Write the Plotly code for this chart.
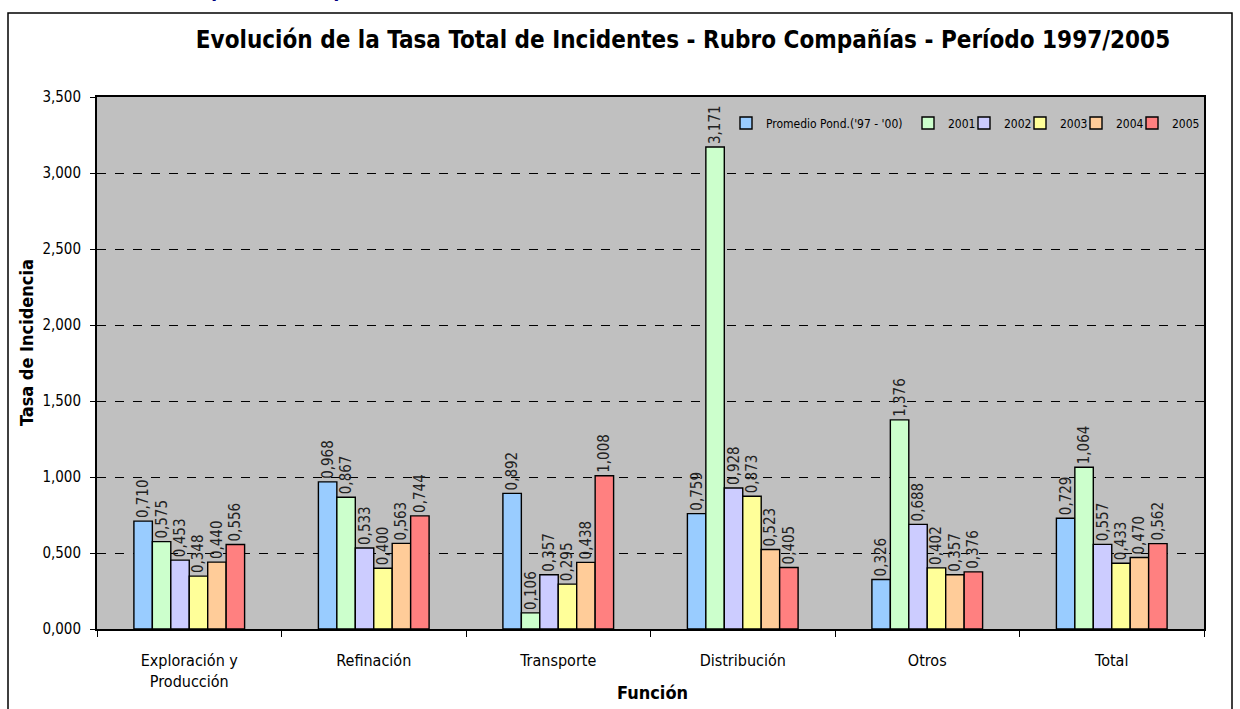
import plotly.graph_objects as go

categories = ["Exploración y<br>Producción", "Refinación", "Transporte", "Distribución", "Otros", "Total"]
series_names = ["Promedio Pond.('97 - '00)", "2001", "2002", "2003", "2004", "2005"]
prom = [0.710, 0.968, 0.892, 0.759, 0.326, 0.729]
y2001 = [0.575, 0.867, 0.106, 3.171, 1.376, 1.064]
y2002 = [0.453, 0.533, 0.357, 0.928, 0.688, 0.557]
y2003 = [0.348, 0.400, 0.295, 0.873, 0.402, 0.433]
y2004 = [0.440, 0.563, 0.438, 0.523, 0.357, 0.470]
y2005 = [0.556, 0.744, 1.008, 0.405, 0.376, 0.562]
colors = ["#99CCFF", "#CCFFCC", "#CCCCFF", "#FFFF99", "#FFCC99", "#FF8080"]

NARROW = "Liberation Sans Narrow, DejaVu Sans Condensed, Arial Narrow, Liberation Sans"

L, R, T, B = 97, 36, 97, 80
W, H = 1240, 709
pw = W - L - R
ph = H - T - B

def px(x):
    return (x - L) / pw

def py(y):
    return (H - B - y) / ph

# x pixel of each legend symbol's centre
legend_symbol_x = [747, 929, 985, 1041, 1097, 1153]
legend_names = ["legend", "legend2", "legend3", "legend4", "legend5", "legend6"]

fig = go.Figure()
for name, vals, col, lg in zip(series_names, [prom, y2001, y2002, y2003, y2004, y2005], colors, legend_names):
    fig.add_trace(go.Bar(
        x=categories, y=vals, name=name, legend=lg,
        marker=dict(color=col, line=dict(color="black", width=1.4)),
        text=[f"{v:.3f}".replace(".", ",") for v in vals],
        textposition="outside", textangle=-90,
        textfont=dict(family=NARROW, size=15, color="#222"),
        cliponaxis=False,
    ))

legend_layout = {}
for lg, sx in zip(legend_names, legend_symbol_x):
    legend_layout[lg] = dict(
        orientation="h", x=px(sx - 21), xanchor="left", y=py(123), yanchor="middle",
        bgcolor="rgba(0,0,0,0)", borderwidth=0,
        font=dict(family=NARROW, size=12, color="black"),
        itemwidth=30, itemclick=False, itemdoubleclick=False,
    )

fig.update_layout(
    width=W, height=H,
    margin=dict(l=L, r=R, t=T, b=B, autoexpand=False),
    paper_bgcolor="white", plot_bgcolor="#C0C0C0",
    barmode="group", bargap=0.4, bargroupgap=0,
    separators=",.",
    uniformtext=dict(minsize=15, mode="show"),
    font=dict(family=NARROW, size=14, color="black"),
    title=dict(text="<b>Evolución de la Tasa Total de Incidentes - Rubro Compañías - Período 1997/2005</b>",
               x=px(683), xref="paper", xanchor="center", y=1 - 40 / H, yanchor="middle",
               font=dict(family=NARROW, size=24, color="black")),
    showlegend=True,
    **legend_layout,
)
fig.update_xaxes(
    automargin=False,
    showline=True, linecolor="black", linewidth=2, mirror=True,
    ticks="outside", tickson="boundaries", ticklen=6, tickcolor="black",
    ticklabelstandoff=16,
    tickfont=dict(family=NARROW, size=16),
)
fig.update_yaxes(
    automargin=False,
    range=[0, 3.5], dtick=0.5, tickformat=".3f",
    showline=True, linecolor="black", linewidth=2, mirror=True,
    ticks="outside", ticklen=5, tickcolor="black",
    ticklabelstandoff=6,
    showgrid=True, gridcolor="black", griddash="dash", gridwidth=1,
    zeroline=False,
    tickfont=dict(family=NARROW, size=15),
)

# axis titles placed where the reference shows them
fig.add_annotation(xref="paper", yref="paper", x=px(26), y=py(342), xanchor="center", yanchor="middle",
                   text="<b>Tasa de Incidencia</b>", textangle=-90, showarrow=False,
                   font=dict(family=NARROW, size=18, color="black"))
fig.add_annotation(xref="paper", yref="paper", x=px(652), y=py(692), xanchor="center", yanchor="middle",
                   text="<b>Función</b>", showarrow=False,
                   font=dict(family=NARROW, size=18, color="black"))

# outer chart border
fig.add_shape(type="rect", xref="paper", yref="paper",
              x0=px(8), x1=px(1232), y0=py(715), y1=py(13),
              line=dict(color="black", width=1.5), fillcolor="rgba(0,0,0,0)", layer="below")

# clipped heading above the chart
fig.add_annotation(xref="paper", yref="paper", x=px(140), y=py(3), xanchor="left", yanchor="bottom",
                   text="<b><i>Bases para la comparación</i></b>", showarrow=False,
                   font=dict(family="Liberation Sans", size=22, color="#000080"))

fig.write_html("out.html", config={"displayModeBar": False},
               post_script="document.body.style.margin='0';document.body.style.overflow='hidden';")
